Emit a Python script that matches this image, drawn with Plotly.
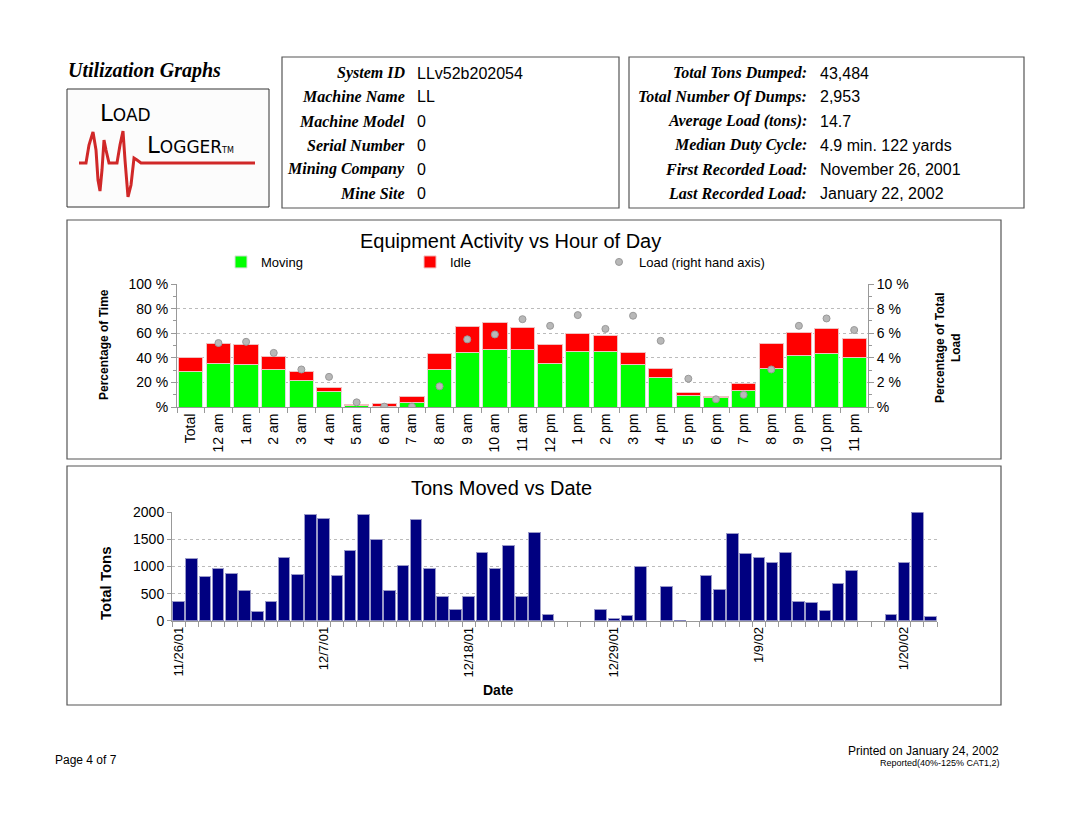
import plotly.graph_objects as go
import pandas as pd

# the page is shown with an 8 px body margin, so the figure is drawn a bit smaller
OFF = 8
FW, FH = 1069 - 2 * OFF, 827 - 2 * OFF

# hourly activity (percent of time) and load share (percent of total load)
hours = ['Total', '12 am', '1 am', '2 am', '3 am', '4 am', '5 am', '6 am', '7 am', '8 am', '9 am', '10 am',
         '11 am', '12 pm', '1 pm', '2 pm', '3 pm', '4 pm', '5 pm', '6 pm', '7 pm', '8 pm', '9 pm', '10 pm', '11 pm']
moving = [28.8, 35.2, 34.6, 30.2, 21.7, 12.4, 1.4, 0.5, 3.3, 30.5, 44.2, 46.7,
          46.7, 35.2, 45.1, 45.1, 34.3, 23.6, 9.3, 8.0, 13.7, 31.3, 41.8, 43.4, 40.1]
idle = [11.3, 16.2, 16.5, 10.7, 6.9, 3.5, 0.8, 2.0, 4.9, 13.2, 21.5, 21.7,
        18.1, 15.3, 14.8, 12.9, 9.7, 7.7, 2.5, 0.5, 5.8, 20.3, 18.9, 20.3, 15.9]
load = [None, 5.2, 5.3, 4.4, 3.05, 2.45, 0.38, 0.03, 0.03, 1.68, 5.5, 5.9,
        7.14, 6.6, 7.47, 6.35, 7.42, 5.38, 2.3, 0.63, 0.99, 3.05, 6.6, 7.2, 6.26]

# daily tons, 11/26/01 .. 1/22/02
dates = pd.date_range('2001-11-26', '2002-01-22')
tons = [345, 1151, 818, 972, 862, 566, 166, 357, 1163, 849,
        1963, 1889, 837, 1298, 1951, 1489, 560, 1022, 1865, 960,
        449, 209, 449, 1249, 966, 1385, 449, 1618, 117, 0,
        0, 0, 209, 43, 98, 997, 0, 640, 12, 0,
        837, 578, 1600, 1231, 1169, 1071, 1262, 351, 338, 191,
        689, 917, 0, 0, 117, 1065, 2000, 80]

info_left = [('System ID', 'LLv52b202054'), ('Machine Name', 'LL'), ('Machine Model', '0'),
             ('Serial Number', '0'), ('Mining Company', '0'), ('Mine Site', '0')]
info_right = [('Total Tons Dumped:', '43,484'), ('Total Number Of Dumps:', '2,953'),
              ('Average Load (tons):', '14.7'), ('Median Duty Cycle:', '4.9 min. 122 yards'),
              ('First Recorded Load:', 'November 26, 2001'), ('Last Recorded Load:', 'January 22, 2002')]


def px(x):
    return (x - OFF) / FW


def py(y):
    return 1 - (y - OFF) / FH


SANS = 'Liberation Sans, Arial'
SERIF = 'Liberation Serif, Times New Roman'

fig = go.Figure()

fig.add_trace(go.Bar(x=hours, y=moving, name='Moving', marker=dict(color='#00ff00', line=dict(color='#dddddd', width=1)),
                     xaxis='x', yaxis='y'))
fig.add_trace(go.Bar(x=hours, y=idle, name='Idle', marker=dict(color='#ff0000', line=dict(color='#f0c0c0', width=1)),
                     xaxis='x', yaxis='y'))
fig.add_trace(go.Scatter(x=hours, y=load, name='Load (right hand axis)', mode='markers',
                         marker=dict(color='#b8b8b8', size=7, line=dict(color='#999999', width=1)),
                         xaxis='x', yaxis='y2'))
# days without loads get no bar at all
fig.add_trace(go.Bar(x=dates, y=[t if t else None for t in tons], showlegend=False,
                     marker=dict(color='#000080', line=dict(color='#9a9ac8', width=1)),
                     xaxis='x3', yaxis='y3'))

axis_font = dict(family=SANS, size=14, color='black')
pct_vals = [0, 20, 40, 60, 80, 100]
pct_text = ['%', '20 %', '40 %', '60 %', '80 %', '100 %']
ld_vals = [0, 2, 4, 6, 8, 10]
ld_text = ['%', '2 %', '4 %', '6 %', '8 %', '10 %']
tick_dates = dates[::11]

fig.update_layout(
    width=FW, height=FH, margin=dict(l=0, r=0, t=0, b=0, autoexpand=False),
    paper_bgcolor='#e4e4e4', plot_bgcolor='rgba(0,0,0,0)',
    barmode='stack', bargap=0.12,
    font=dict(family=SANS, color='black'),
    showlegend=True,
    legend=dict(orientation='h', x=px(221), y=py(247), xanchor='left', yanchor='top',
                entrywidth=144, entrywidthmode='pixels', font=dict(family=SANS, size=13),
                bgcolor='rgba(0,0,0,0)', traceorder='normal'),
    xaxis=dict(domain=[px(177), px(868)], anchor='y', type='category', range=[-0.5, len(hours) - 0.5],
               tickangle=-90, tickfont=axis_font, showline=True, linecolor='#999999', ticks='outside',
               tickson='boundaries', ticklen=5, tickcolor='#999999', showgrid=False, automargin=False),
    yaxis=dict(domain=[py(407), py(284)], anchor='x', range=[0, 100], tickvals=pct_vals, ticktext=pct_text,
               tickfont=axis_font, showline=True, linecolor='#999999', ticks='outside', ticklen=5,
               tickcolor='#999999', showgrid=True, gridcolor='#bbbbbb', griddash='dot', gridwidth=1,
               zeroline=False, automargin=False,
               minor=dict(tickvals=[10, 30, 50, 70, 90], ticks='outside', ticklen=3, tickcolor='#999999',
                          showgrid=False)),
    yaxis2=dict(overlaying='y', side='right', anchor='x', range=[0, 10], tickvals=ld_vals, ticktext=ld_text,
                tickfont=axis_font, showline=True, linecolor='#999999', ticks='outside', ticklen=5,
                tickcolor='#999999', showgrid=False, zeroline=False, automargin=False,
                minor=dict(tickvals=[1, 3, 5, 7, 9], ticks='outside', ticklen=3, tickcolor='#999999')),
    xaxis3=dict(domain=[px(172), px(937)], anchor='y3', type='date',
                range=[dates[0] - pd.Timedelta(hours=12), dates[-1] + pd.Timedelta(hours=12)],
                tickvals=list(tick_dates), ticktext=[f'{d.month}/{d.day}/{d:%y}' for d in tick_dates],
                tickangle=-90, tickfont=dict(family=SANS, size=13, color='black'),
                showline=True, linecolor='#999999', ticks='', showgrid=False, automargin=False,
                minor=dict(tick0=dates[0] - pd.Timedelta(hours=12), dtick=86400000, ticks='outside',
                           ticklen=5, tickcolor='#999999', showgrid=False)),
    yaxis3=dict(domain=[py(620.7), py(512.3)], anchor='x3', range=[0, 2000], tickvals=[0, 500, 1000, 1500, 2000],
                tickfont=axis_font, showline=True, linecolor='#999999', ticks='outside', ticklen=4,
                tickcolor='#999999', showgrid=True, gridcolor='#bbbbbb', griddash='dot', zeroline=False,
                automargin=False),
)


def rect(x0, y0, x1, y1, **kw):
    return dict(type='rect', xref='paper', yref='paper', x0=px(x0), x1=px(x1), y0=py(y1), y1=py(y0),
                layer='below', **kw)


shapes = [
    rect(6, 4, 1062, 820, fillcolor='white', line=dict(width=0)),
    rect(67, 89, 269, 207, fillcolor='#fcfcfc', line=dict(color='#333333', width=1)),
    rect(282, 57, 619, 208, line=dict(color='#555555', width=1.2)),
    rect(629, 57, 1024, 208, line=dict(color='#555555', width=1.2)),
    rect(67, 220, 1001, 459, line=dict(color='#555555', width=1.2)),
    rect(67, 466, 1001, 705, line=dict(color='#555555', width=1.2)),
]

# logo waveform
wave = [(79, 163), (86, 163), (89, 145), (93, 132), (96, 150), (98, 180), (100, 191), (102, 170),
        (104, 140), (106, 150), (109, 163), (117, 163), (120, 145), (123, 131), (125, 160), (128, 197),
        (131, 185), (134, 158), (137, 160), (141, 163), (255, 163)]
path = 'M ' + ' L '.join(f'{px(x):.5f},{py(y):.5f}' for x, y in wave)
shapes.append(dict(type='path', path=path, xref='paper', yref='paper', line=dict(color='#d02828', width=3)))
fig.update_layout(shapes=shapes)

ann = []


def text(x, y, s, size, family=SANS, xanchor='left', angle=0, color='black'):
    ann.append(dict(x=px(x), y=py(y), xref='paper', yref='paper', text=s, showarrow=False,
                    xanchor=xanchor, yanchor='middle', textangle=angle,
                    font=dict(family=family, size=size, color=color)))


text(66, 71, '<b><i>Utilization Graphs</i></b>', 20, SERIF)
text(98, 113, '<span style="font-size:23px">L</span>OAD', 17, 'DejaVu Sans')
text(145, 145, '<span style="font-size:23px">L</span>OGGER<span style="font-size:8px">TM</span>', 17, 'DejaVu Sans')

for i, (k, v) in enumerate(info_left):
    y = 73 + 24 * i
    text(407, y, f'<b><i>{k}</i></b>', 16, SERIF, xanchor='right')
    text(415, y, v, 16)
for i, (k, v) in enumerate(info_right):
    y = 73 + 24 * i
    text(809, y, f'<b><i>{k}</i></b>', 16, SERIF, xanchor='right')
    text(818, y, v, 16)

text(510, 241, 'Equipment Activity vs Hour of Day', 20, xanchor='center')
text(501, 488, 'Tons Moved vs Date', 20, xanchor='center')
text(104, 345, '<b>Percentage of Time</b>', 12, xanchor='center', angle=-90)
text(948, 348, '<b>Percentage of Total<br>Load</b>', 12, xanchor='center', angle=-90)
text(105, 583, '<b>Total Tons</b>', 15, xanchor='center', angle=-90)
text(498, 690, '<b>Date</b>', 14, xanchor='center')

NARROW = 'Liberation Sans Narrow, Liberation Sans'
text(53, 760, 'Page 4 of 7', 12, NARROW)
text(1001, 751, 'Printed on January 24, 2002', 12, NARROW, xanchor='right')
text(1001, 763, 'Reported(40%-125% CAT1,2)', 9, NARROW, xanchor='right')

fig.update_layout(annotations=ann)

fig.write_html("out.html")
